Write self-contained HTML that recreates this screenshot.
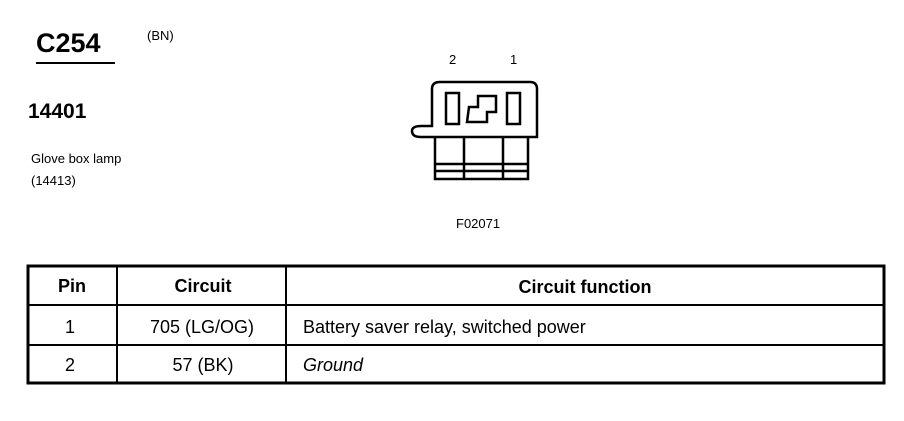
<!DOCTYPE html>
<html><head><style>
body{margin:0;background:#fff;width:904px;height:416px;overflow:hidden;font-family:"Liberation Sans",Arial,sans-serif;}
</style></head><body>
<svg width="904" height="416" xmlns="http://www.w3.org/2000/svg" font-family="Liberation Sans, Arial, sans-serif">
<text x="36" y="52" font-size="27" font-weight="bold">C254</text>
<line x1="36" y1="63" x2="115" y2="63" stroke="#000" stroke-width="2"/>
<text x="147" y="40" font-size="13">(BN)</text>
<text x="28" y="118" font-size="21" font-weight="bold">14401</text>
<text x="31" y="163" font-size="13">Glove box lamp</text>
<text x="31" y="185" font-size="13">(14413)</text>
<text x="449" y="64" font-size="13">2</text>
<text x="510" y="64" font-size="13">1</text>
<g fill="none" stroke="#000" stroke-width="2.5">
<path d="M440,82 H530 Q537,82 537,89 V137 H421 Q412,137 412,131 Q412,126 421,126 H432 V89 Q432,82 440,82 Z"/>
<rect x="446" y="93" width="13" height="31"/>
<rect x="507" y="93" width="13" height="31"/>
<path d="M469,107 H478 V96 H496 V112 H487 V122 H467 Z"/>
<path d="M435,137 V179 H528 V137 M464,137 V179 M503,137 V179 M435,164 H528 M435,171 H528"/>
</g>
<text x="456" y="228" font-size="13">F02071</text>
<g stroke="#000" fill="none">
<rect x="28" y="266" width="856" height="117" stroke-width="3"/>
<line x1="28" y1="305" x2="884" y2="305" stroke-width="2"/>
<line x1="28" y1="345" x2="884" y2="345" stroke-width="2"/>
<line x1="117" y1="266" x2="117" y2="383" stroke-width="2"/>
<line x1="286" y1="266" x2="286" y2="383" stroke-width="2"/>
</g>
<g font-size="18" text-anchor="middle">
<text x="72" y="292" font-weight="bold">Pin</text>
<text x="203" y="292" font-weight="bold">Circuit</text>
<text x="585" y="293" font-weight="bold">Circuit function</text>
<text x="70" y="333">1</text>
<text x="202" y="333">705 (LG/OG)</text>
<text x="70" y="371">2</text>
<text x="203" y="371">57 (BK)</text>
</g>
<text x="303" y="333" font-size="18">Battery saver relay, switched power</text>
<text x="303" y="371" font-size="18" font-style="italic">Ground</text>
</svg>
</body></html>
